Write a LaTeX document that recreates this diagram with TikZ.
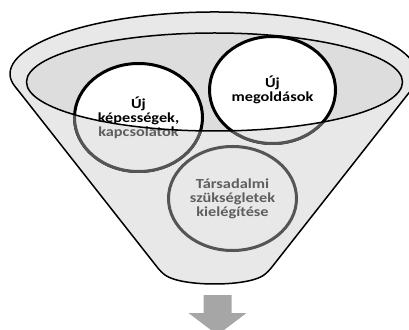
\documentclass[tikz,border=0pt]{standalone}
\usepackage{fontspec}
\newfontfamily\cfont[FakeStretch=1.18]{Carlito}
\usetikzlibrary{shapes.geometric}
\definecolor{funnelfill}{HTML}{E8E8E8}
\definecolor{innerfill}{HTML}{DDDDDD}
\definecolor{lowstroke}{HTML}{555555}
\definecolor{lowtext}{HTML}{5E5E5E}
\definecolor{arrowfill}{HTML}{A6A6A6}
\begin{document}
\begin{tikzpicture}[x=1pt,y=1pt]
\tikzset{
  bub/.style={ellipse, line width=3pt, align=center, inner sep=0pt,
    font=\cfont\bfseries\fontsize{13.8}{14}\selectfont},
  upperbub/.style={bub, draw=black, fill=white, text=black},
  lowerbub/.style={bub, draw=lowstroke, fill=funnelfill, text=lowtext},
  funnelline/.style={draw=black, line width=1.5pt},
}
\useasboundingbox (0,0) rectangle (409,329);
\clip (0,0) rectangle (409,329);
% funnel body
\path[funnelline, fill=funnelfill, rounded corners=5pt]
  (214.5,254) ++ ({202.5*cos(194.1)},{63*sin(194.1)})
  arc[start angle=194.1, end angle=-14.1, x radius=202.5, y radius=63]
  -- (268,57) .. controls (248,42) and (181,42) .. (161,57) -- cycle;
% inner ellipse
\path[fill=innerfill] (214.5,247) ellipse[x radius=188, y radius=49];
% circles, upper look
\node[upperbub, minimum width=128, minimum height=108] (c1) at (138.5,211.5) {Új\\képességek,\\kapcsolatok};
\node[upperbub, minimum width=126, minimum height=107] (c2) at (272.5,239) {Új\\megoldások};
% lower (front) part
\begin{scope}
  \clip (26.5,247) arc[start angle=180, end angle=360, x radius=188, y radius=49]
    -- (409,247) -- (409,0) -- (0,0) -- (0,247) -- cycle;
  \node[lowerbub, minimum width=128, minimum height=108] (c1b) at (138.5,211.5) {Új\\képességek,\\kapcsolatok};
  \node[lowerbub, minimum width=126, minimum height=107] (c2b) at (272.5,239) {Új\\megoldások};
\end{scope}
\node[lowerbub, minimum width=128, minimum height=104] (c3) at (232.5,130.5) {Társadalmi\\szükségletek\\kielégítése};
% inner ellipse stroke on top
\draw[funnelline] (214.5,247) ellipse[x radius=188, y radius=49];
% arrow
\fill[arrowfill] (203.5,34) -- (231.5,34) -- (231.5,16) -- (246.5,16)
  -- (217.5,-6) -- (188.5,16) -- (203.5,16) -- cycle;
\end{tikzpicture}
\end{document}
